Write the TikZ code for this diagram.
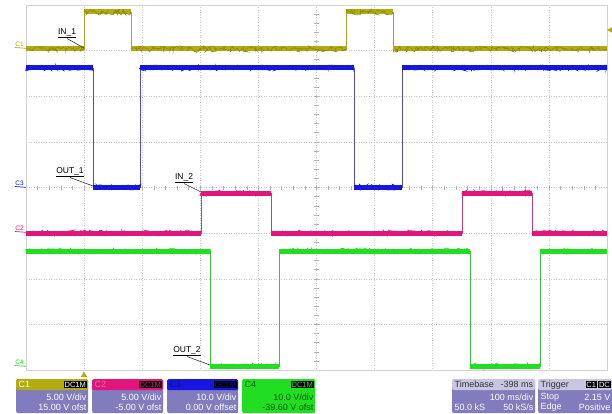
\documentclass[tikz,border=0pt]{standalone}
\usepackage{fontspec}
\setmainfont{Liberation Sans}
\usetikzlibrary{positioning,decorations.pathmorphing}
\definecolor{cone}{RGB}{178,172,18}
\definecolor{ctwo}{RGB}{226,22,122}
\definecolor{cthree}{RGB}{22,22,222}
\definecolor{cfour}{RGB}{34,222,34}
\definecolor{boxbg}{RGB}{128,124,190}
\definecolor{hdrbg}{RGB}{200,198,224}
\tikzset{>=stealth,
	gridl/.style={draw=gray!45,dotted,line width=0.5pt},
	tickl/.style={draw=gray!60,line width=0.5pt},
	frame/.style={draw=gray!35,line width=0.8pt},
	flat/.style={line width=5pt},
	noise/.style={line width=0.6pt,decorate,decoration={random steps,segment length=1.5pt,amplitude=3pt}},
	lbl/.style={inner sep=0.5pt,font=\fontsize{8.5}{9}\selectfont},
	lead/.style={draw=black!80,line width=0.6pt},
	chmk/.style={inner sep=0.3pt,font=\fontsize{6.5}{7}\selectfont},
	body/.style={anchor=north west,fill=boxbg,minimum width=#1,minimum height=34pt,inner sep=0pt,rounded corners=2pt},
	hdr/.style={anchor=north west,minimum width=#1,minimum height=11pt,inner sep=0pt,rounded corners=1.5pt},
	btxt/.style={inner sep=0.5pt,text=white,font=\fontsize{9}{10}\selectfont},
	dcm/.style={fill=black,inner sep=0.8pt,font=\fontsize{7.5}{8}\selectfont}}
\begin{document}
\begin{tikzpicture}[x=1pt,y=-1pt]
	\pgfmathsetseed{11}
	\useasboundingbox (0,0) rectangle (612,414);
	\fill[white] (0,0) rectangle (612,414);
	% graticule
	\foreach \i in {1,...,9} \draw[gridl] ({26+\i*58.1},5) -- ({26+\i*58.1},370);
	\foreach \j in {1,...,7} \draw[gridl] (26,{5+\j*45.625}) -- (607,{5+\j*45.625});
	\foreach \i in {1,...,49} \draw[tickl] ({26+\i*11.62},185.5) -- ({26+\i*11.62},190);
	\foreach \j in {1,...,39} \draw[tickl] (314.3,{5+\j*9.125}) -- (318.8,{5+\j*9.125});
	\draw[frame] (26,5) rectangle (607,370);
	% C1 trace
	\draw[cone!85!gray,line width=0.9pt] (26,49) -| (84,12) -| (131,49) -| (346,12) -| (393,49) -- (607,49);
	\foreach \a/\b/\y in {26/84/49,84/131/12,131/346/49,346/393/12,393/607/49}
		{\draw[flat,cone] (\a,\y) -- (\b,\y); \draw[noise,cone!80!black] (\a,\y) -- (\b,\y);}
	% C3 trace
	\draw[cthree!45!gray,line width=0.9pt] (26,68) -| (93,187) -| (140,68) -| (354,187) -| (402,68) -- (607,68);
	\foreach \a/\b/\y in {26/93/68,93/140/187,140/354/68,354/402/187,402/607/68}
		{\draw[flat,cthree] (\a,\y) -- (\b,\y); \draw[noise,cthree] (\a,\y) -- (\b,\y);}
	% C2 trace
	\draw[ctwo!60!gray,line width=0.9pt] (26,233) -| (201,193) -| (271,233) -| (462,193) -| (532,233) -- (607,233);
	\foreach \a/\b/\y in {26/201/233,201/271/193,271/462/233,462/532/193,532/607/233}
		{\draw[flat,ctwo] (\a,\y) -- (\b,\y); \draw[noise,ctwo] (\a,\y) -- (\b,\y);}
	% C4 trace
	\draw[cfour!70!gray,line width=0.9pt] (26,251) -| (210,366) -| (279,251) -| (470,366) -| (540,251) -- (607,251);
	\foreach \a/\b/\y in {26/210/251,210/279/366,279/470/251,470/540/366,540/607/251}
		{\draw[flat,cfour] (\a,\y) -- (\b,\y); \draw[noise,cfour] (\a,\y) -- (\b,\y);}
	% channel markers
	\node[chmk,text=cone,anchor=south] (mkone) at (19.5,47.5) {C1};
	\node[chmk,text=cthree,anchor=south] (mkthree) at (19.5,186.5) {C3};
	\node[chmk,text=ctwo,anchor=south] (mktwo) at (19.5,231.5) {C2};
	\node[chmk,text=cfour,anchor=south] (mkfour) at (19.5,365.5) {C4};
	\coordinate (fone) at (26,48.3);
	\coordinate (fthree) at (26,187.3);
	\coordinate (ftwo) at (26,232.3);
	\coordinate (ffour) at (26,366.3);
	\draw[cone,line width=0.7pt] (mkone.south west) -- (fone);
	\draw[cthree,line width=0.7pt] (mkthree.south west) -- (fthree);
	\draw[ctwo,line width=0.7pt] (mktwo.south west) -- (ftwo);
	\draw[cfour,line width=0.7pt] (mkfour.south west) -- (ffour);
	% trigger markers
	\fill[cone] (607,30) -- (612,27.3) -- (612,32.7) -- cycle;
	\fill[cone] (84,371.5) -- (80.8,377) -- (87.2,377) -- cycle;
	% trace labels
	\coordinate (inonept) at (84,48);
	\coordinate (outonept) at (93,186);
	\coordinate (intwopt) at (201,192);
	\coordinate (outtwopt) at (210,365);
	\node[lbl] (inone) at (67,33) {\underline{IN\_1}};
	\node[lbl] (outone) at (70,172) {\underline{OUT\_1}};
	\node[lbl] (intwo) at (184,178) {\underline{IN\_2}};
	\node[lbl] (outtwo) at (187,351) {\underline{OUT\_2}};
	\draw[lead] (inone.south) -- (inonept);
	\draw[lead] (outone.south) -- (outonept);
	\draw[lead] (intwo.south) -- (intwopt);
	\draw[lead] (outtwo.south) -- (outtwopt);
	% channel boxes
	\node[body=72pt] (bone) at (16,379) {};
	\node[hdr=72pt,fill=cone] (hone) at (16,379) {};
	\node[btxt,anchor=west] at ([xshift=2pt]hone.west) {C1};
	\node[dcm,text=white,anchor=east] at ([xshift=-1.5pt]hone.east) {DC1M};
	\node[btxt,anchor=east] at (87,397) {5.00 V/div};
	\node[btxt,anchor=east] at (87,407.5) {15.00 V ofst};
	\node[body=71pt] (btwo) at (92,379) {};
	\node[hdr=71pt,fill=ctwo] (htwo) at (92,379) {};
	\node[btxt,text=ctwo!60!white,anchor=west] at ([xshift=2pt]htwo.west) {C2};
	\node[dcm,text=ctwo,anchor=east] at ([xshift=-1.5pt]htwo.east) {DC1M};
	\node[btxt,anchor=east] at (162,397) {5.00 V/div};
	\node[btxt,anchor=east] at (162,407.5) {-5.00 V ofst};
	\node[body=71pt] (bthree) at (167,379) {};
	\node[hdr=71pt,fill=cthree] (hthree) at (167,379) {};
	\node[btxt,text=cthree!70!black,anchor=west] at ([xshift=2pt]hthree.west) {C3};
	\node[dcm,text=cthree!70!black,anchor=east] at ([xshift=-1.5pt]hthree.east) {DC1M};
	\node[btxt,anchor=east] at (237,397) {10.0 V/div};
	\node[btxt,anchor=east] at (237,407.5) {0.00 V offset};
	\node[body=73pt,fill=cfour] (bfour) at (242,379) {};
	\node[hdr=73pt,fill=cfour] (hfour) at (242,379) {};
	\node[btxt,text=green!35!black,anchor=west] at ([xshift=2pt]hfour.west) {C4};
	\node[dcm,text=cfour,anchor=east] at ([xshift=-1.5pt]hfour.east) {DC1M};
	\node[btxt,text=green!35!black,anchor=east] at (314,397) {10.0 V/div};
	\node[btxt,text=green!35!black,anchor=east] at (314,407.5) {-39.60 V ofst};
	% timebase and trigger boxes
	\node[body=83pt] (btime) at (452,379) {};
	\node[hdr=83pt,fill=hdrbg] (htime) at (452,379) {};
	\node[btxt,text=black!80,anchor=west] at ([xshift=2pt]htime.west) {Timebase};
	\node[btxt,text=black!80,anchor=east] at ([xshift=-1.5pt]htime.east) {-398 ms};
	\node[btxt,anchor=east] at (534,397) {100 ms/div};
	\node[btxt,anchor=west] at (454,407.5) {50.0 kS};
	\node[btxt,anchor=east] at (534,407.5) {50 kS/s};
	\node[body=74pt] (btrig) at (538,379) {};
	\node[hdr=74pt,fill=hdrbg] (htrig) at (538,379) {};
	\node[btxt,text=black!80,anchor=west] at ([xshift=2pt]htrig.west) {Trigger};
	\node[dcm,text=white,anchor=east] (tdc) at ([xshift=-1.5pt]htrig.east) {DC};
	\node[dcm,text=white,left=1pt of tdc] {C1};
	\node[btxt,anchor=west] at (540,397) {Stop};
	\node[btxt,anchor=east] at (611,397) {2.15 V};
	\node[btxt,anchor=west] at (540,407.5) {Edge};
	\node[btxt,anchor=east] at (611,407.5) {Positive};
\end{tikzpicture}
\end{document}
